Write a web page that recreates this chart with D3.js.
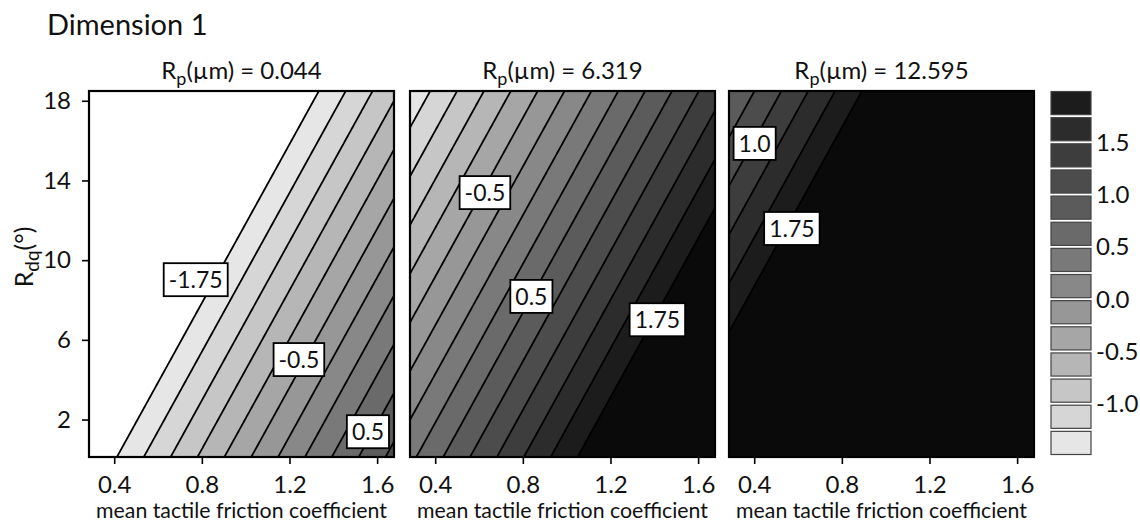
<!DOCTYPE html>
<html>
<head>
<meta charset="utf-8">
<title>Dimension 1</title>
<script src="https://d3js.org/d3.v7.min.js"></script>
<style>
  body { margin: 0; background: #fff; }
  svg text { font-family: Lato, "Open Sans", sans-serif; fill: #111; }
  .axis path.domain { display: none; }
  .axis line { stroke: #000; stroke-width: 1.6px; }
  .axis text { font-size: 24px; font-family: Lato, "Open Sans", sans-serif; fill: #111; }
</style>
</head>
<body>
<div id="chart"></div>
<script>
// one panel per Rp value
const rpValues = [0.044, 6.319, 12.595];
const muRange = [0.285, 1.677];
const rdqRange = [0.12, 18.49];
const muTicks = [0.4, 0.8, 1.2, 1.6];
const rdqTicks = [2, 6, 10, 14, 18];

// surface z = b0 + b1*mu + b2*Rdq + b3*Rp
const coefficients = [-2.594, 2.039, -0.1023, 0.3507];

const levels = [-1.75, -1.5, -1.25, -1.0, -0.75, -0.5, -0.25, 0.0, 0.25, 0.5, 0.75, 1.0, 1.25, 1.5, 1.75];
const legendEdges = [-1.5, -1.25, -1.0, -0.75, -0.5, -0.25, 0.0, 0.25, 0.5, 0.75, 1.0, 1.25, 1.5, 1.75, 2.0];
const legendTicks = [-1.0, -0.5, 0.0, 0.5, 1.0, 1.5];

// inline contour labels (data coords)
const labelPanel = [0, 0, 0, 1, 1, 1, 2, 2];
const labelText = ["-1.75", "-0.5", "0.5", "-0.5", "0.5", "1.75", "1.0", "1.75"];
const labelMu = [0.772, 1.243, 1.558, 0.627, 0.839, 1.414, 0.402, 0.572];
const labelRdq = [9.02, 5.01, 1.39, 13.39, 8.18, 7.01, 15.86, 11.59];

// grey fill for each threshold (band above it)
const greys = ["#e6e6e6", "#d6d6d6", "#c6c6c6", "#b6b6b6", "#a6a6a6", "#979797", "#888888",
               "#797979", "#6a6a6a", "#5b5b5b", "#4c4c4c", "#3d3d3d", "#2c2c2c", "#1c1c1c", "#0a0a0a"];

const width = 1140, height = 522;
const panelLeft = [89, 410, 729];
const panelW = 305, plotTop = 91, plotBottom = 457;
const fmt = d => d.toFixed(1);

const svg = d3.select("#chart").append("svg")
  .attr("width", width).attr("height", height);

svg.append("text")
  .attr("x", 47).attr("y", 35)
  .style("font-size", "29px")
  .text("Dimension 1");

const y = d3.scaleLinear().domain(rdqRange).range([plotBottom, plotTop]);

const nx = 240, ny = 240;
const contours = d3.contours().size([nx, ny]).thresholds(levels);

rpValues.forEach((rp, p) => {
  const left = panelLeft[p];
  const x = d3.scaleLinear().domain(muRange).range([left, left + panelW]);

  // grid values, row 0 at the top
  const values = new Array(nx * ny);
  for (let j = 0; j < ny; j++) {
    const r = rdqRange[1] - j * (rdqRange[1] - rdqRange[0]) / (ny - 1);
    for (let i = 0; i < nx; i++) {
      const mu = muRange[0] + i * (muRange[1] - muRange[0]) / (nx - 1);
      values[j * nx + i] = coefficients[0] + coefficients[1] * mu + coefficients[2] * r + coefficients[3] * rp;
    }
  }

  const cellW = panelW / (nx - 1), cellH = (plotBottom - plotTop) / (ny - 1);
  const path = d3.geoPath(d3.geoTransform({
    point: function(cx, cy) {
      this.stream.point(left + (cx - 0.5) * cellW, plotTop + (cy - 0.5) * cellH);
    }
  }));

  svg.append("clipPath").attr("id", "clip" + p)
    .append("rect")
    .attr("x", left).attr("y", plotTop)
    .attr("width", panelW).attr("height", plotBottom - plotTop);

  const g = svg.append("g").attr("clip-path", `url(#clip${p})`);
  g.append("rect")
    .attr("x", left).attr("y", plotTop)
    .attr("width", panelW).attr("height", plotBottom - plotTop)
    .attr("fill", "#fff");

  const polys = contours(values);
  g.selectAll("path.band")
    .data(polys)
    .join("path")
    .attr("class", "band")
    .attr("d", path)
    .attr("fill", (d, i) => greys[i]);

  g.selectAll("path.line")
    .data(polys)
    .join("path")
    .attr("class", "line")
    .attr("d", path)
    .attr("fill", "none")
    .attr("stroke", "#000")
    .attr("stroke-width", 1.8);

  // frame
  svg.append("rect")
    .attr("x", left).attr("y", plotTop)
    .attr("width", panelW).attr("height", plotBottom - plotTop)
    .attr("fill", "none")
    .attr("stroke", "#000")
    .attr("stroke-width", 2.2);

  // inline labels
  labelPanel.forEach((lp, k) => {
    if (lp !== p) return;
    const lg = svg.append("g")
      .attr("transform", `translate(${x(labelMu[k])},${y(labelRdq[k])})`);
    const box = lg.append("rect");
    const t = lg.append("text")
      .attr("text-anchor", "middle")
      .attr("dy", "0.36em")
      .style("font-size", "23px")
      .text(labelText[k]);
    const w = t.node().getComputedTextLength() + 10;
    box.attr("x", -w / 2).attr("y", -16.5)
      .attr("width", w).attr("height", 33)
      .attr("fill", "#fff")
      .attr("stroke", "#000")
      .attr("stroke-width", 1.8);
  });

  // bottom axis
  svg.append("g")
    .attr("class", "axis")
    .attr("transform", `translate(0,${plotBottom})`)
    .call(d3.axisBottom(x).tickValues(muTicks).tickFormat(fmt).tickSize(7).tickPadding(12));

  svg.append("text")
    .attr("x", left + panelW / 2).attr("y", 518)
    .attr("text-anchor", "middle")
    .style("font-size", "21.3px")
    .text("mean tactile friction coefficient");

  // panel title
  const title = svg.append("text")
    .attr("x", left + panelW / 2).attr("y", 79)
    .attr("text-anchor", "middle")
    .style("font-size", "24px");
  title.append("tspan").text("R");
  title.append("tspan").attr("dy", 6).style("font-size", "18px").text("p");
  title.append("tspan").attr("dy", -6).text(`(\u00b5m) = ${rp.toFixed(3)}`);
});

// left axis on the first panel
svg.append("g")
  .attr("class", "axis")
  .attr("transform", `translate(${panelLeft[0]},0)`)
  .call(d3.axisLeft(y).tickValues(rdqTicks).tickSize(7).tickPadding(11));

const ylab = svg.append("text")
  .attr("transform", "translate(33,257) rotate(-90)")
  .attr("text-anchor", "middle")
  .style("font-size", "25px");
ylab.append("tspan").text("R");
ylab.append("tspan").attr("dy", 6).style("font-size", "19px").text("dq");
ylab.append("tspan").attr("dy", -6).text("(\u00b0)");

// legend
const ly = d3.scaleLinear().domain([legendEdges[0], legendEdges[legendEdges.length - 1]]).range([456, 90]);
const legend = svg.append("g");
legend.selectAll("rect")
  .data(legendEdges.slice(0, -1))
  .join("rect")
  .attr("x", 1051)
  .attr("y", (d, i) => ly(legendEdges[i + 1]) + 1.5)
  .attr("width", 40)
  .attr("height", (d, i) => ly(d) - ly(legendEdges[i + 1]) - 3)
  .attr("fill", (d, i) => greys[i])
  .attr("stroke", "#444")
  .attr("stroke-width", 1.2);
legend.selectAll("text")
  .data(legendTicks)
  .join("text")
  .attr("x", 1096)
  .attr("y", d => ly(d))
  .attr("dy", "0.36em")
  .style("font-size", "24px")
  .text(fmt);
</script>
</body>
</html>
